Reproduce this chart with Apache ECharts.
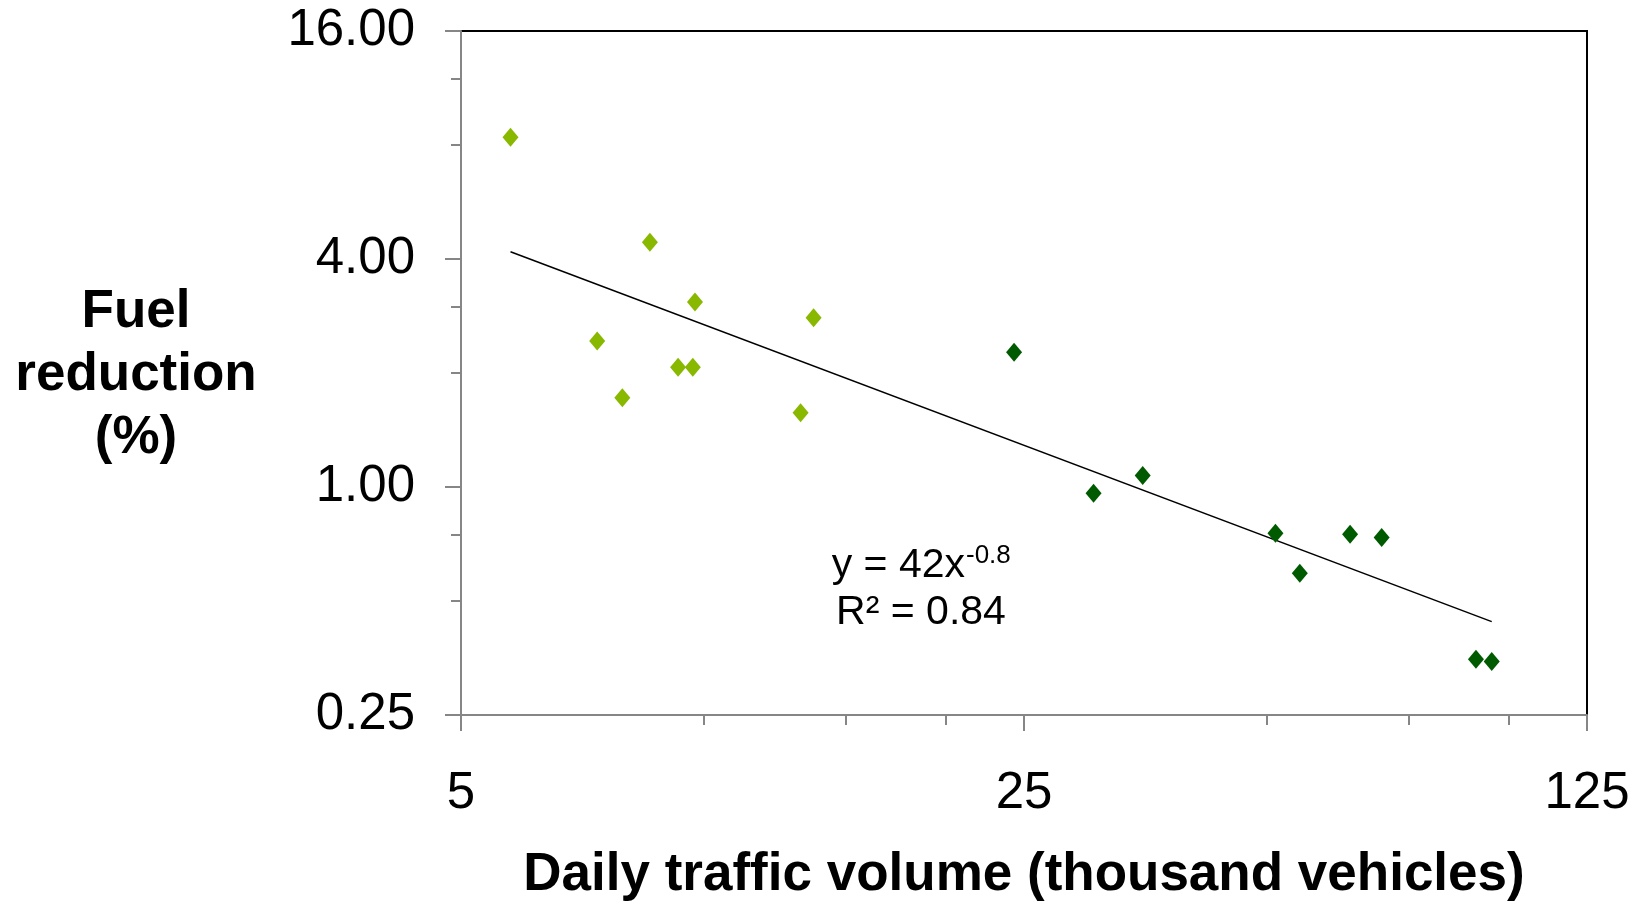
<!DOCTYPE html>
<html>
<head>
<meta charset="utf-8">
<script src="https://cdn.jsdelivr.net/npm/echarts@6/dist/echarts.min.js"></script>
<style>
  html, body { margin: 0; padding: 0; background: #fff; }
  #chart { width: 1644px; height: 902px; }
</style>
</head>
<body>
<div id="chart"></div>
<script>
// light green points (lower traffic volumes)
var lowX = [5.76, 7.38, 7.93, 8.58, 9.30, 9.70, 9.76, 13.2, 13.7]
var lowY = [8.39, 2.43, 1.72, 4.43, 2.07, 2.07, 3.08, 1.57, 2.80]
// dark green points (higher traffic volumes)
var highX = [24.3, 30.5, 35.1, 51.3, 55.0, 63.5, 69.5, 91.0, 95.2]
var highY = [2.27, 0.963, 1.073, 0.755, 0.592, 0.750, 0.736, 0.351, 0.346]
// power trendline end points
var trendX = [5.76, 95.2]
var trendY = [4.18, 0.441]
// minor tick positions (Excel style multiples)
var minorX = [10, 15, 20, 50, 75, 100]
var minorY = [0.5, 0.75, 2, 3, 8, 12]

var font = '"Liberation Sans", Arial, sans-serif'
var gray = '#868686'

function pairs (xs, ys) {
  return xs.map(function (x, i) { return [x, ys[i]] })
}
function logOf (base) {
  return function (v) { return Math.log(v) / Math.log(base) }
}

var chart = echarts.init(document.getElementById('chart'))
chart.setOption({
  animation: false,
  grid: {
    left: 461,
    top: 31,
    right: 57,
    bottom: 187,
    containLabel: false,
    outerBoundsMode: 'none',
    show: true,
    borderColor: '#000',
    borderWidth: 2
  },
  xAxis: [
    {
      type: 'log',
      logBase: 5,
      min: 5,
      max: 125,
      axisLine: { onZero: false, lineStyle: { color: gray, width: 2 } },
      axisTick: { length: 16, lineStyle: { color: gray, width: 2 } },
      axisLabel: {
        margin: 53,
        fontSize: 51,
        fontFamily: font,
        color: '#000',
        formatter: function (v) { return Math.round(v) }
      },
      splitLine: { show: false },
      name: 'Daily traffic volume (thousand vehicles)',
      nameLocation: 'middle',
      nameGap: 134,
      nameTextStyle: { fontSize: 53, fontWeight: 'bold', fontFamily: font, color: '#000' }
    },
    {
      // only carries the minor ticks
      type: 'value',
      position: 'bottom',
      min: 1,
      max: 3,
      axisLine: { show: false, onZero: false },
      axisTick: { length: 10, customValues: minorX.map(logOf(5)), lineStyle: { color: gray, width: 2 } },
      axisLabel: { show: false },
      splitLine: { show: false }
    }
  ],
  yAxis: [
    {
      type: 'log',
      logBase: 4,
      min: 0.25,
      max: 16,
      axisLine: { onZero: false, lineStyle: { color: gray, width: 2 } },
      axisTick: { length: 16, lineStyle: { color: gray, width: 2 } },
      axisLabel: {
        margin: 46,
        fontSize: 51,
        fontFamily: font,
        color: '#000',
        formatter: function (v) { return v.toFixed(2) }
      },
      splitLine: { show: false }
    },
    {
      type: 'value',
      position: 'left',
      min: -1,
      max: 2,
      axisLine: { show: false, onZero: false },
      axisTick: { length: 10, customValues: minorY.map(logOf(4)), lineStyle: { color: gray, width: 2 } },
      axisLabel: { show: false },
      splitLine: { show: false }
    }
  ],
  graphic: [
    {
      type: 'text',
      x: 136,
      y: 375,
      style: {
        text: 'Fuel\nreduction\n(%)',
        font: 'bold 53px ' + font,
        lineHeight: 63,
        fill: '#000',
        textAlign: 'center',
        textVerticalAlign: 'middle'
      }
    },
    {
      type: 'text',
      x: 965,
      y: 566,
      style: { text: 'y = 42x', font: '41px ' + font, fill: '#000', textAlign: 'right', textVerticalAlign: 'middle' }
    },
    {
      type: 'text',
      x: 966,
      y: 556,
      style: { text: '-0.8', font: '26px ' + font, fill: '#000', textAlign: 'left', textVerticalAlign: 'middle' }
    },
    {
      type: 'text',
      x: 921,
      y: 613,
      style: { text: 'R² = 0.84', font: '41px ' + font, fill: '#000', textAlign: 'center', textVerticalAlign: 'middle' }
    }
  ],
  series: [
    {
      type: 'line',
      data: pairs(trendX, trendY),
      symbol: 'none',
      lineStyle: { color: '#000', width: 1.5 },
      z: 1
    },
    {
      type: 'scatter',
      data: pairs(lowX, lowY),
      symbol: 'diamond',
      symbolSize: [16, 19],
      itemStyle: { color: '#88b800', opacity: 1 },
      z: 3
    },
    {
      type: 'scatter',
      data: pairs(highX, highY),
      symbol: 'diamond',
      symbolSize: [16, 19],
      itemStyle: { color: '#005a00', opacity: 1 },
      z: 3
    }
  ]
})
</script>
</body>
</html>
